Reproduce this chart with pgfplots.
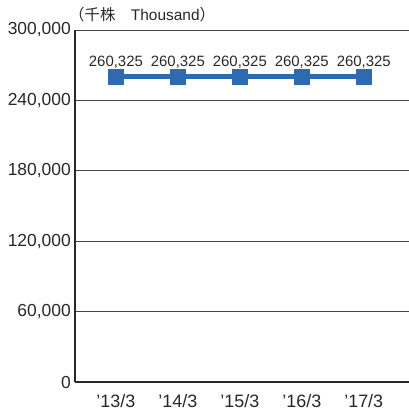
\documentclass[border=0pt]{standalone}
\usepackage{fontspec}
\setmainfont{Liberation Sans}
\newfontfamily\cjk{Noto Sans CJK JP}
\usepackage{pgfplots}
\pgfplotsset{compat=1.18}
\definecolor{lineblue}{RGB}{46,106,176}
\definecolor{txt}{RGB}{40,40,40}
\definecolor{gridc}{RGB}{70,70,70}

\begin{document}
\begin{tikzpicture}
\begin{axis}[
  at={(0,0)}, anchor=south west,
  scale only axis, width=334bp, height=352bp,
  xmin=-0.66, xmax=4.73, ymin=0, ymax=300000,
  axis x line*=bottom, axis y line*=left,
  axis line style={-, color=txt, line width=1.2bp},
  ymajorgrids, grid style={gridc, line width=0.8bp},
  major tick length=0,
  xtick={0,1,2,3,4},
  xticklabels={’13/3,’14/3,’15/3,’16/3,’17/3},
  ytick={0,60000,120000,180000,240000,300000},
  scaled y ticks=false,
  /pgf/number format/.cd, fixed, 1000 sep={,}, assume math mode=true,
  /pgfplots/.cd,
  tick label style={text=txt},
  yticklabel style={font=\fontsize{17.5}{19}\selectfont, inner sep=4bp},
  xticklabel style={font=\fontsize{18}{19}\selectfont, yshift=-9bp},
  clip=false,
  nodes near coords,
  point meta=explicit symbolic,
  nodes near coords style={font=\fontsize{15}{16}\selectfont, text=txt, anchor=south, inner sep=0pt, yshift=8bp},
]
\addplot[color=lineblue, line width=4.5bp, mark=square*, mark size=7.5bp,
  mark options={fill=lineblue, draw=lineblue, line width=0pt}]
  coordinates {
    (0,260325) [260,325]
    (1,260325) [260,325]
    (2,260325) [260,325]
    (3,260325) [260,325]
    (4,260325) [260,325]
  };
\end{axis}
\node[anchor=west, inner sep=0pt, text=txt, font=\fontsize{15.5}{16}\selectfont] at (-6bp,367bp) {{\cjk （千株　}Thousand{\cjk ）}};
\pgfresetboundingbox
\path (-75bp,-32bp) rectangle (334bp,382bp);
\end{tikzpicture}
\end{document}
